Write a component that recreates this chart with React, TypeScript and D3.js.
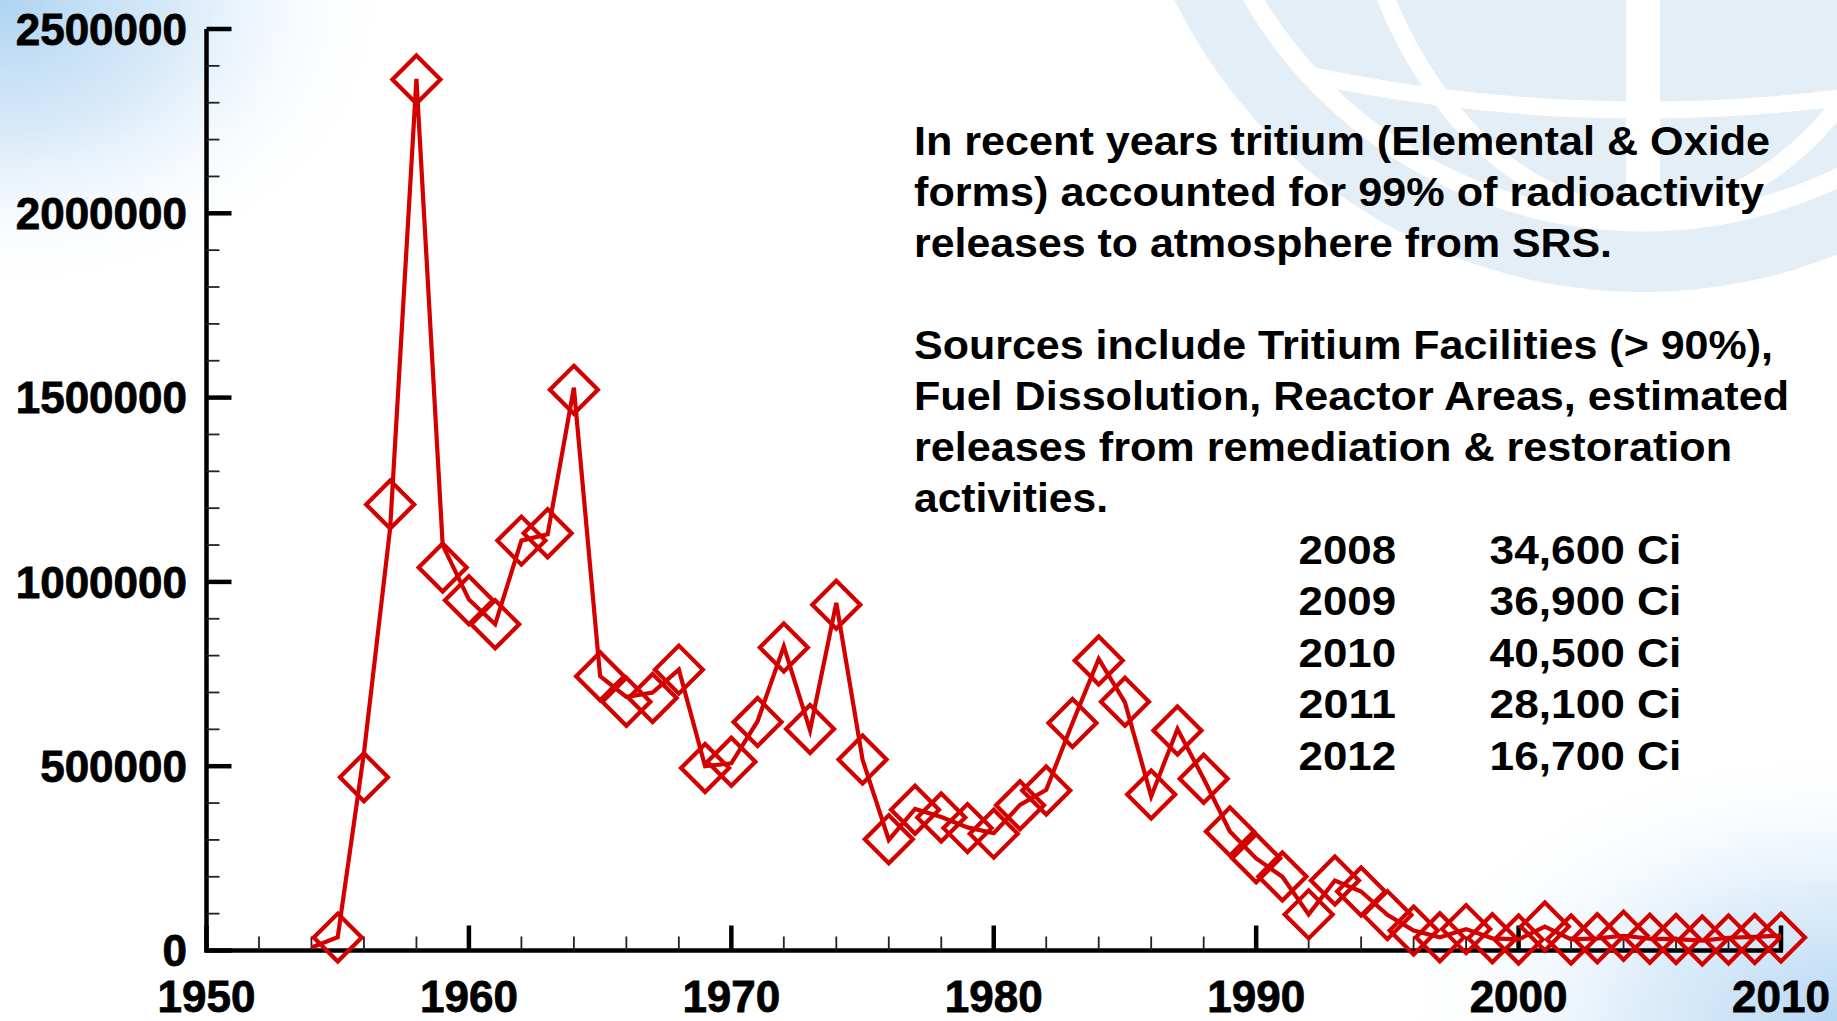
import React from "react";
import * as d3 from "d3";

// ---------- data ----------
const lineYears = [1954, 1955, 1956, 1957, 1958, 1959, 1960, 1961, 1962, 1963, 1964, 1965, 1966, 1967, 1968, 1969, 1970, 1971, 1972, 1973, 1974, 1975, 1976, 1977, 1978, 1979, 1980, 1981, 1982, 1983, 1984, 1985, 1986, 1987, 1988, 1989, 1990, 1991, 1992, 1993, 1994, 1995, 1996, 1997, 1998, 1999, 2000, 2001, 2002, 2003, 2004, 2005, 2006, 2007, 2008, 2009, 2010];
const lineValues = [8000, 36000, 536000, 1147000, 2365000, 1100000, 952000, 885000, 1112000, 1129000, 1527000, 744000, 688000, 700000, 762000, 500000, 508000, 622000, 825000, 597000, 943000, 518000, 300000, 384000, 362000, 334000, 318000, 395000, 436000, 617000, 791000, 673000, 418000, 601000, 466000, 323000, 250000, 200000, 98000, 190000, 160000, 97000, 54000, 36000, 58000, 33000, 30000, 65000, 30000, 33000, 40000, 32000, 31000, 27000, 34600, 36900, 40500];

const markerYears = [1955, 1956, 1957, 1958, 1959, 1960, 1961, 1962, 1963, 1964, 1965, 1966, 1967, 1968, 1969, 1970, 1971, 1972, 1973, 1974, 1975, 1976, 1977, 1978, 1979, 1980, 1981, 1982, 1983, 1984, 1985, 1986, 1987, 1988, 1989, 1990, 1991, 1992, 1993, 1994, 1995, 1996, 1997, 1998, 1999, 2000, 2001, 2002, 2003, 2004, 2005, 2006, 2007, 2008, 2009, 2010];
const markerValues = [35000, 470000, 1210000, 2363000, 1039000, 950000, 885000, 1112000, 1132000, 1521000, 744000, 675000, 685000, 762000, 495000, 512000, 620000, 822000, 601000, 938000, 518000, 302000, 382000, 361000, 332000, 317000, 394000, 434000, 617000, 787000, 675000, 423000, 597000, 466000, 323000, 250000, 201000, 98000, 190000, 160000, 96000, 54000, 36000, 58000, 33000, 30000, 65000, 30000, 33000, 40000, 32000, 31000, 27000, 30000, 31000, 35000];

const yMajorTicks = [0, 500000, 1000000, 1500000, 2000000, 2500000];
const xMajorTicks = [1950, 1960, 1970, 1980, 1990, 2000, 2010];

const noteLines1 = [
  "In recent years tritium (Elemental & Oxide",
  "forms) accounted for 99% of  radioactivity",
  "releases to atmosphere from SRS.",
];
const noteLines2 = [
  "Sources include Tritium Facilities (> 90%),",
  "Fuel Dissolution, Reactor Areas, estimated",
  "releases from remediation & restoration",
  "activities.",
];
const tableYears = ["2008", "2009", "2010", "2011", "2012"];
const tableValues = ["34,600 Ci", "36,900 Ci", "40,500 Ci", "28,100 Ci", "16,700 Ci"];

// ---------- layout ----------
const W = 1837;
const H = 1021;
const RED = "#d40000";
const FONT = "'Liberation Sans', Arial, Helvetica, sans-serif";

const note1Widths = [856, 850, 698];
const note2Widths = [859, 875, 818, 194];

export default function App() {
  const x = d3.scaleLinear().domain([1950, 2010]).range([206.5, 1781]);
  const y = d3.scaleLinear().domain([0, 2500000]).range([950.5, 29]);

  const yMinor = d3.range(0, 2500001, 100000).filter((v) => v % 500000 !== 0);
  const xMinor = d3.range(1950, 2011, 2).filter((v) => v % 10 !== 0);

  const linePath = d3
    .line<number>()
    .x((_, i) => x(lineYears[i]))
    .y((d) => y(d))(lineValues) as string;

  const s = 24;
  const diamond = (cx: number, cy: number) =>
    `M${cx},${cy - s}L${cx + s},${cy}L${cx},${cy + s}L${cx - s},${cy}Z`;

  const axisX0 = x(1950);
  const axisY0 = y(0);

  // logo geometry
  const lcx = 1643;
  const lcy = -230;

  return (
    <svg
      width={W}
      height={H}
      viewBox={`0 0 ${W} ${H}`}
      style={{ position: "absolute", left: 0, top: 0, display: "block" }}
      fontFamily={FONT}
    >
      <defs>
        <radialGradient id="tl" gradientUnits="userSpaceOnUse" cx={0} cy={0} r={1}
          gradientTransform="translate(0,0) scale(400,300)">
          <stop offset="0" stopColor="#aed3f1" stopOpacity={1} />
          <stop offset="0.45" stopColor="#cfe5f7" stopOpacity={0.8} />
          <stop offset="1" stopColor="#ffffff" stopOpacity={0} />
        </radialGradient>
        <radialGradient id="br" gradientUnits="userSpaceOnUse" cx={0} cy={0} r={1}
          gradientTransform={`translate(${W},${H}) scale(450,280)`}>
          <stop offset="0" stopColor="#b6d7f3" stopOpacity={1} />
          <stop offset="0.45" stopColor="#d6e9f8" stopOpacity={0.8} />
          <stop offset="1" stopColor="#ffffff" stopOpacity={0} />
        </radialGradient>
        <clipPath id="innerDisc">
          <circle cx={lcx} cy={lcy} r={443} />
        </clipPath>
        <clipPath id="page">
          <rect x={0} y={0} width={W} height={H} />
        </clipPath>
      </defs>

      <rect x={0} y={0} width={W} height={H} fill="#ffffff" />
      <rect x={0} y={0} width={W} height={H} fill="url(#tl)" />
      <rect x={0} y={0} width={W} height={H} fill="url(#br)" />

      {/* faded globe emblem, top right */}
      <g clipPath="url(#page)">
        <circle cx={lcx} cy={lcy} r={522} fill="#e3eef7" />
        <circle cx={lcx} cy={lcy} r={452} fill="none" stroke="#ffffff" strokeWidth={19} />
        <g clipPath="url(#innerDisc)">
          <rect x={lcx - 17} y={lcy - 500} width={34} height={945} fill="#ffffff" />
          <circle cx={lcx} cy={-1500} r={1610} fill="none" stroke="#ffffff" strokeWidth={17} />
          <ellipse cx={lcx} cy={lcy} rx={300} ry={443} fill="none" stroke="#ffffff" strokeWidth={18} />
        </g>
      </g>

      {/* annotation text */}
      <g fontWeight="bold" fontSize={40} fill="#000">
        {noteLines1.map((t, i) => (
          <text key={"a" + i} x={914} y={155 + i * 51} textLength={note1Widths[i]} lengthAdjust="spacingAndGlyphs">
            {t}
          </text>
        ))}
        {noteLines2.map((t, i) => (
          <text key={"b" + i} x={914} y={358.5 + i * 51.2} textLength={note2Widths[i]} lengthAdjust="spacingAndGlyphs">
            {t}
          </text>
        ))}
        {tableYears.map((t, i) => (
          <text key={"c" + i} x={1298.5} y={563.5 + i * 51.5} textLength={97.5} lengthAdjust="spacingAndGlyphs">
            {t}
          </text>
        ))}
        {tableValues.map((t, i) => (
          <text key={"d" + i} x={1489.6} y={563.5 + i * 51.5} textLength={191.7} lengthAdjust="spacingAndGlyphs">
            {t}
          </text>
        ))}
      </g>

      {/* axes */}
      <g stroke="#000">
        <line x1={axisX0} y1={y(2500000)} x2={axisX0} y2={axisY0 + 2} strokeWidth={4.5} />
        <line x1={axisX0 - 2} y1={axisY0} x2={x(2010) + 2} y2={axisY0} strokeWidth={4.5} />
        {yMajorTicks.map((v) => (
          <line key={"ym" + v} x1={axisX0} x2={axisX0 + 25} y1={y(v)} y2={y(v)} strokeWidth={4.5} />
        ))}
        {yMinor.map((v) => (
          <line key={"yn" + v} x1={axisX0} x2={axisX0 + 13} y1={y(v)} y2={y(v)} strokeWidth={1.8} stroke="#222" />
        ))}
        {xMajorTicks.map((v) => (
          <line key={"xm" + v} x1={x(v)} x2={x(v)} y1={axisY0} y2={axisY0 - 25} strokeWidth={4.5} />
        ))}
        {xMinor.map((v) => (
          <line key={"xn" + v} x1={x(v)} x2={x(v)} y1={axisY0} y2={axisY0 - 14} strokeWidth={1.8} stroke="#222" />
        ))}
      </g>

      <g fontWeight="bold" fontSize={44} fill="#000" stroke="#000" strokeWidth={0.8}>
        {yMajorTicks.map((v) => (
          <text key={"yl" + v} x={187} y={y(v)} dy="0.36em" textAnchor="end">
            {String(v)}
          </text>
        ))}
        {xMajorTicks.map((v) => (
          <text key={"xl" + v} x={x(v)} y={1012} textAnchor="middle">
            {String(v)}
          </text>
        ))}
      </g>

      {/* data */}
      <g fill="none" stroke={RED} strokeWidth={4.2}>
        {markerYears.map((yr, i) => (
          <path key={"m" + yr} d={diamond(x(yr), y(markerValues[i]))} strokeLinejoin="miter" />
        ))}
        <path d={linePath} strokeLinejoin="miter" strokeMiterlimit={4} />
      </g>
    </svg>
  );
}
